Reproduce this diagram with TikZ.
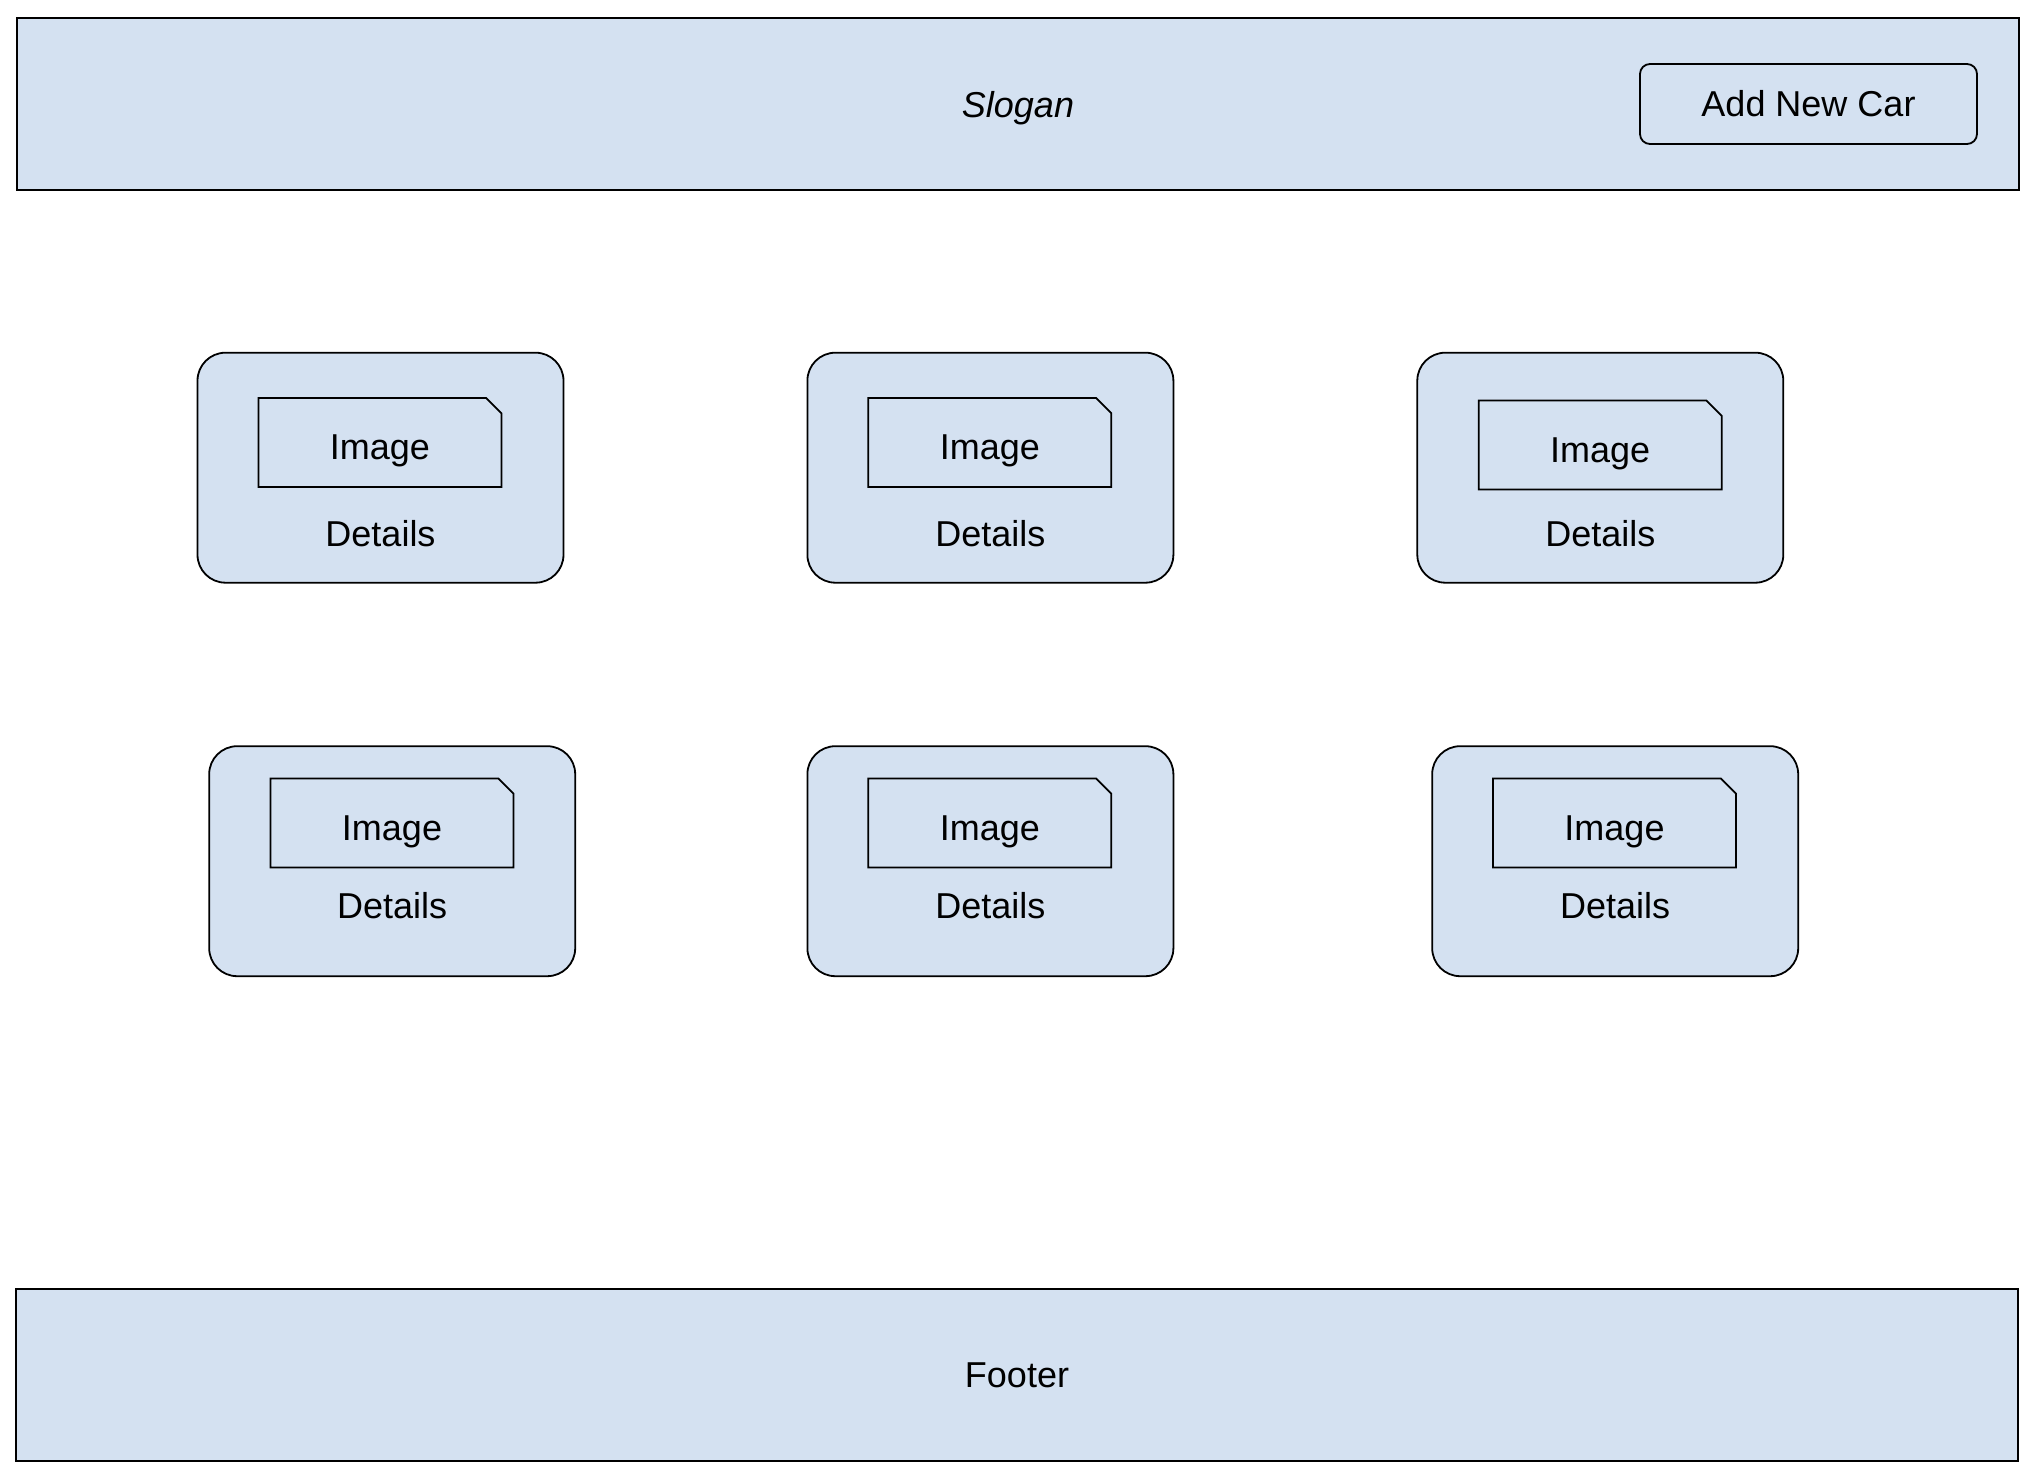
\documentclass[tikz,border=0pt]{standalone}
\usepackage{fontspec}
\setmainfont{Liberation Sans}
\usetikzlibrary{shapes,positioning}
\definecolor{boxblue}{RGB}{212,225,241}
\newcommand{\lwidth}{0.9pt}
\newcommand{\fsize}{\fontsize{18}{21}\selectfont}

\begin{document}
\begin{tikzpicture}[x=0.5pt,y=-0.5pt]
        %\draw[help lines] (0,0) grid (2026,1476);
        \useasboundingbox[fill=white] (0,0) rectangle (2026,1476);
        \tikzset{
            panel/.style = {draw, fill=boxblue, line width=1pt, inner sep=0pt,
                minimum width=1001pt, minimum height=86pt, font=\fsize},
            button/.style = {draw, fill=boxblue, rounded corners=5pt, line width=\lwidth,
                minimum width=168.5pt, minimum height=40pt, font=\fsize},
            card/.style = {draw, fill=boxblue, rounded corners=14pt, line width=\lwidth,
                minimum width=183pt, minimum height=115pt},
            imgbox/.style = {draw, chamfered rectangle, chamfered rectangle corners=north east,
                chamfered rectangle xsep=3.8pt, chamfered rectangle ysep=3.8pt, line width=\lwidth,
                inner sep=0pt, minimum width=121.5pt, minimum height=44.5pt, font=\fsize,
                text height=17pt, text depth=0pt},
            txt/.style = {inner sep=0pt, font=\fsize}
        }
        \node[panel, font=\fsize\itshape, text height=13.5pt, text depth=0pt] (header) at (1018,104) {Slogan};
        \node[button] (addcar) at (1808.5,104) {Add New Car};
        
        \foreach \n/\cx/\cy/\ix/\iy/\dy in {1/380.5/467.7/379.9/442.5/533.6,
                                            2/990.4/467.7/989.8/442.5/533.6,
                                            3/1600.3/467.7/1600.2/445.1/533.6,
                                            4/392.2/861.2/392.0/823.0/905.8,
                                            5/990.4/861.2/989.8/823.0/905.8,
                                            6/1615.2/861.2/1614.5/823.0/905.8}
        {
            \node[card] (card\n) at (\cx,\cy) {};
            \node[imgbox] (img\n) at (\ix,\iy) {Image};
            \node[txt] (det\n) at (\cx,\dy) {Details};
        }
        
        \node[panel] (footer) at (1017,1375) {Footer};
        
\end{tikzpicture}
\end{document}
